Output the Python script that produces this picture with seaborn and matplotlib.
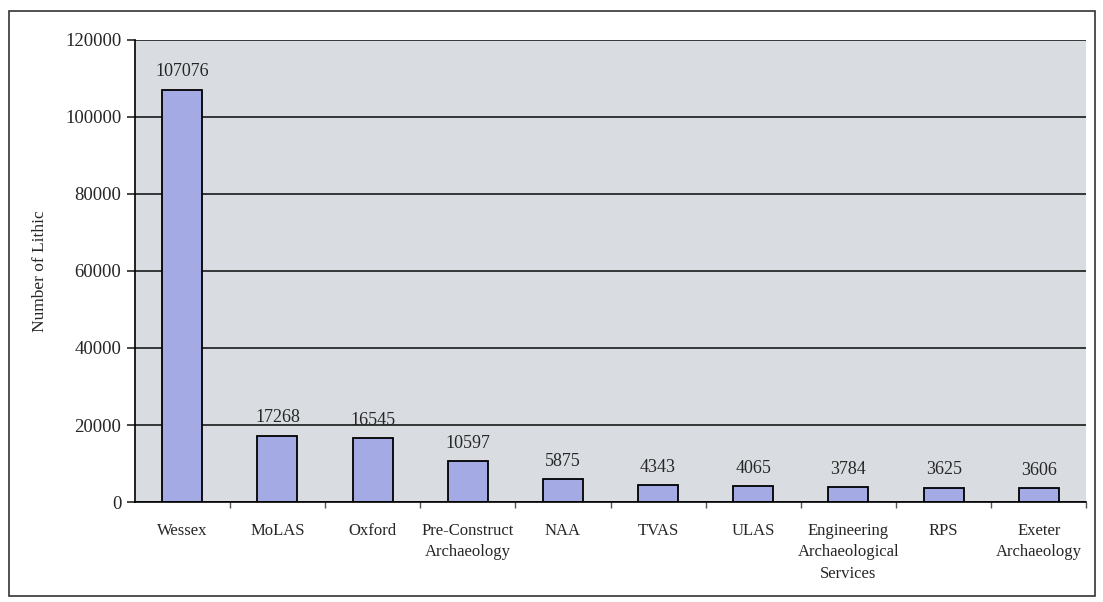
import matplotlib
matplotlib.use("Agg")
import matplotlib.pyplot as plt
import seaborn as sns
import pandas as pd
from matplotlib.patches import Rectangle
from matplotlib.ticker import FixedLocator

# Data
units = ["Wessex", "MoLAS", "Oxford", "Pre-Construct\nArchaeology", "NAA",
         "TVAS", "ULAS", "Engineering\nArchaeological\nServices", "RPS",
         "Exeter\nArchaeology"]
lithics = [107076, 17268, 16545, 10597, 5875, 4343, 4065, 3784, 3625, 3606]

df = pd.DataFrame({"Unit": units, "Lithics": lithics})

sns.set_style("white")
plt.rcParams["font.family"] = ["Liberation Serif", "DejaVu Serif"]

fig = plt.figure(figsize=(11.03, 6.02), dpi=100)
ax = fig.add_axes([0.122, 0.166, 0.863, 0.768])

sns.barplot(data=df, x="Unit", y="Lithics", color="#a3aae4", width=0.42,
            edgecolor="black", linewidth=1.3, saturation=1, ax=ax)

ax.set_facecolor("#d9dde1")
ax.set_ylim(0, 120000)
ax.set_xlim(-0.5, len(units) - 0.5)
ax.set_yticks(range(0, 120001, 20000))
ax.yaxis.grid(True, color="#1a1a1a", linewidth=1.2)
ax.set_axisbelow(True)
for s in ["top", "right"]:
    ax.spines[s].set_visible(False)
ax.spines["left"].set_color("black")
ax.spines["bottom"].set_color("black")
ax.spines["left"].set_linewidth(1.2)
ax.spines["bottom"].set_linewidth(1.2)

# small ticks between categories, as in the original
ax.xaxis.set_minor_locator(FixedLocator([i + 0.5 for i in range(len(units))]))
ax.tick_params(axis="x", which="minor", length=4, width=1, color="#555555", bottom=True)

ax.tick_params(axis="y", direction="out", length=6, width=1.2, labelsize=13.5, left=True)
ax.tick_params(axis="x", which="major", length=0, labelsize=12, pad=15)
for lbl in ax.get_xticklabels():
    lbl.set_linespacing(1.45)
ax.set_xlabel("")
ax.set_ylabel("Number of Lithic", fontsize=12.5, labelpad=12)

for i, v in enumerate(lithics):
    ax.text(i, v + 2500, str(v), ha="center", va="bottom", fontsize=13)

fig.patches.append(Rectangle((0.008, 0.01), 0.985, 0.972, transform=fig.transFigure,
                             fill=False, edgecolor="#333333", linewidth=1.2))

fig.savefig("out.png", dpi=100)
